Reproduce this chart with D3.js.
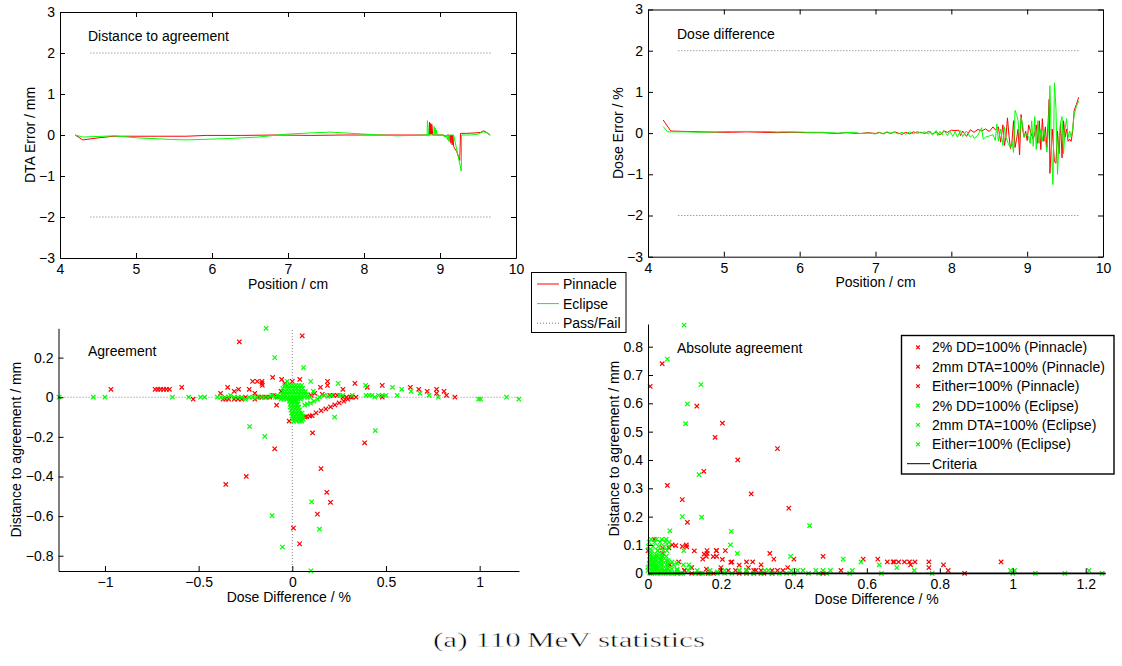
<!DOCTYPE html>
<html><head><meta charset="utf-8">
<script src="https://cdn.jsdelivr.net/npm/d3@7"></script>
<style>
body{margin:0;background:#fff;}
svg text{font-family:"Liberation Sans",Arial,Helvetica,sans-serif;fill:#000;}
</style></head><body>
<svg id="fig" width="1122" height="666"></svg>
<script>
// ---------- data ----------
const posTicks = [4, 5, 6, 7, 8, 9, 10];
const errTicks = [-3, -2, -1, 0, 1, 2, 3];
const passFailLevels = [-2, 2];
const passFailRange = [4.4, 9.68];

// distance-to-agreement error along the profile [position cm, error mm]
const dtaPinnacle = [[4.20,0],[4.30,-0.12],[4.50,-0.07],[4.71,-0.03],[5.00,-0.03],[5.30,-0.03],[5.66,-0.03],[5.93,-0.01],
  [6.39,-0.01],[6.84,0],[7.30,-0.01],[7.75,0],[8.20,0],[8.60,0],[8.86,0],[8.862,0.31],[8.875,0.02],[8.877,0.28],
  [8.89,0.02],[8.892,0.26],[8.905,0],[9.00,0],[9.05,0],[9.07,-0.04],[9.10,0],[9.12,0],[9.125,-0.15],[9.14,0],
  [9.142,-0.2],[9.155,0],[9.16,-0.24],[9.17,0],[9.18,-0.28],[9.19,-0.32],[9.22,-0.4],[9.26,-0.62],[9.27,0.04],
  [9.35,0.04],[9.45,0.05],[9.53,0.06],[9.57,0.1],[9.60,0.08],[9.66,0]];
const dtaEclipse = [[4.20,0],[4.30,-0.05],[4.71,-0.02],[5.02,-0.07],[5.48,-0.11],[5.66,-0.12],[6.16,-0.09],[6.61,-0.05],
  [6.98,0.02],[7.29,0.05],[7.56,0.07],[7.84,0.04],[8.11,0.01],[8.43,-0.02],[8.65,-0.01],[8.83,0],[8.835,0.35],[8.85,0],
  [8.92,0],[8.922,0.21],[8.935,0.02],[8.937,0.17],[8.95,0.02],[8.952,0.12],[8.965,0],[9.04,0],[9.06,-0.05],[9.08,0],
  [9.10,-0.12],[9.105,0],[9.12,-0.16],[9.125,0],[9.18,0],[9.28,-0.88],[9.285,0],[9.40,0],[9.50,0.02],[9.57,0.08],
  [9.62,0.05],[9.66,-0.01]];

// dose difference along the profile [position cm, error %]
const ddPinnacle = [[4.20,0.32],[4.30,0.05],[4.50,0.04],[4.70,0.03],[4.90,0.02],[5.10,0.02],[5.30,0.03],[5.50,0.02],
  [5.70,0.01],[5.90,0.02],[6.10,0.01],[6.30,0.01],[6.50,-0.01],[6.60,0.01],[6.70,0],[6.80,-0.01],[6.90,0.01],[7.00,-0.01],
  [7.05,0.02],[7.10,-0.02],[7.15,0.02],[7.20,-0.01],[7.25,0.03],[7.30,0],[7.35,-0.03],[7.40,0.02],[7.45,-0.02],[7.50,0.03],
  [7.55,0],[7.60,0.02],[7.65,-0.01],[7.70,0.04],[7.75,-0.02],[7.80,0.03],[7.85,-0.04],[7.90,0.05],[7.95,0.02],[8.00,0.07],
  [8.05,0.06],[8.10,0.07],[8.12,-0.06],[8.15,0.05],[8.20,-0.08],[8.25,0.08],[8.30,0.02],[8.35,0.09],[8.40,0.05],[8.45,0.1],
  [8.50,0.04],[8.55,0.15],[8.58,0.08],[8.62,0.15],[8.65,-0.22],[8.68,0.2],[8.70,-0.3],[8.72,-0.1],[8.74,0.37],[8.76,-0.05],
  [8.78,-0.38],[8.80,-0.2],[8.82,0.3],[8.84,-0.35],[8.86,-0.15],[8.88,0.1],[8.90,-0.53],[8.92,0.45],[8.94,0.1],[8.96,-0.1],
  [8.98,0.05],[9.00,-0.18],[9.02,0.2],[9.05,0],[9.08,-0.15],[9.10,0],[9.12,0.2],[9.14,-0.25],[9.16,0.3],[9.18,-0.4],
  [9.20,0.35],[9.22,-0.2],[9.24,0.15],[9.26,-0.35],[9.28,0.4],[9.29,0.82],[9.30,-0.98],[9.33,0.1],[9.36,-0.7],[9.38,-0.73],
  [9.40,0.05],[9.42,-0.5],[9.44,0.25],[9.46,-0.6],[9.48,0.3],[9.50,-0.1],[9.52,0.1],[9.54,-0.2],[9.56,-0.15],[9.58,-0.2],
  [9.60,0.05],[9.62,0.55],[9.65,0.7],[9.68,0.87]];
const ddEclipse = [[4.20,0.16],[4.26,0.03],[4.50,0.03],[4.70,0.02],[4.90,0.03],[5.10,0.04],[5.30,0.04],[5.50,0.04],
  [5.70,0.03],[5.90,0.03],[6.10,0.02],[6.30,0.02],[6.50,0],[6.60,0.01],[6.70,0.02],[6.80,-0.01],[6.90,0],[7.00,-0.02],
  [7.05,0.01],[7.10,-0.01],[7.15,0.03],[7.20,0],[7.25,0.02],[7.30,-0.02],[7.35,0.02],[7.40,-0.03],[7.45,0.03],[7.50,-0.02],
  [7.55,0.04],[7.60,0],[7.65,0.03],[7.70,-0.02],[7.72,0.05],[7.75,-0.05],[7.80,0.06],[7.82,-0.06],[7.85,0.04],[7.88,-0.05],
  [7.90,0.07],[7.95,-0.06],[7.98,0.05],[8.02,-0.08],[8.05,0.04],[8.08,-0.1],[8.12,0.06],[8.15,-0.08],[8.20,0.05],[8.25,-0.1],
  [8.28,-0.05],[8.30,-0.13],[8.35,-0.05],[8.40,0.13],[8.42,-0.15],[8.45,-0.1],[8.50,-0.07],[8.55,-0.04],[8.58,-0.18],
  [8.60,0.22],[8.62,-0.2],[8.65,0.1],[8.68,-0.3],[8.70,0.15],[8.72,-0.1],[8.75,-0.25],[8.78,-0.35],[8.80,-0.2],[8.82,-0.47],
  [8.84,0.55],[8.86,0.45],[8.88,0.3],[8.90,-0.15],[8.92,0.38],[8.94,0.2],[8.96,-0.1],[8.98,0],[9.00,-0.05],[9.02,-0.1],
  [9.04,-0.25],[9.06,0.3],[9.08,-0.32],[9.10,0.4],[9.12,-0.4],[9.14,0.3],[9.16,-0.25],[9.18,0.1],[9.20,-0.2],[9.22,0.1],
  [9.24,-0.15],[9.26,-0.46],[9.28,0.1],[9.30,1.15],[9.32,-0.3],[9.34,-1.25],[9.36,1.22],[9.38,0.6],[9.40,-1.0],[9.42,-0.2],
  [9.44,0.25],[9.46,0.4],[9.48,-0.5],[9.50,0.1],[9.52,0.35],[9.54,-0.1],[9.56,0.05],[9.58,-0.1],[9.60,0.1],[9.62,0.45],
  [9.65,0.65],[9.68,0.78]];

// agreement points [dose difference %, distance to agreement mm]
const agreePinnacle = [
  [-0.283,0.28],[0.053,0.31],[-0.355,-0.44],[-0.246,-0.40],[-0.094,-0.26],[0.108,-0.18],[0.153,-0.36],[0.184,-0.48],
  [0.204,-0.53],[0.134,-0.59],[0.006,-0.66],[0.039,-0.74],[0.386,-0.23],
  [-0.968,0.04],[-0.732,0.04],[-0.717,0.04],[-0.703,0.04],[-0.687,0.04],[-0.672,0.04],[-0.656,0.04],[-0.59,0.05],[-0.529,-0.01],
  [-0.383,0.02],[-0.345,0.05],[-0.31,0.03],[-0.287,0.04],[-0.23,0.04],
  [-0.37,-0.01],[-0.355,-0.01],[-0.34,-0.01],[-0.31,-0.01],[-0.29,-0.01],[-0.27,-0.01],[-0.25,0],[-0.2,0.02],[-0.2,-0.01],
  [-0.18,0],[-0.165,0],[-0.212,0.08],[-0.187,0.08],[-0.162,0.08],[-0.162,0.07],[-0.16,0.06],[-0.105,0.1],[-0.057,0.09],
  [-0.084,-0.04],[-0.017,-0.12],[-0.14,0],[-0.12,0],[-0.1,0.01],[-0.08,0],[-0.06,0.03],[-0.04,0.07],[0.0,0.08],
  [0.066,-0.1],[0.076,-0.098],[0.094,-0.095],[0.106,-0.093],[0.127,-0.079],[0.154,-0.068],[0.179,-0.059],[0.204,-0.049],
  [0.227,-0.039],[0.25,-0.029],[0.275,-0.02],[0.296,-0.01],[0.318,0],
  [0.2,0.01],[0.22,0.01],[0.24,0.01],[0.27,0],[0.29,0],[0.31,0],[0.34,0],[0.868,0],[0.1,0.01],[0.12,0.02],[0.16,0.015],
  [0.04,0.09],[0.188,0.08],[0.188,0.06],[0.15,0.05],[0.27,0.04],[0.334,0.07],[0.4,0.05],[0.48,0.06],[0.48,0],
  [0.63,0.05],[0.675,0.04],[0.72,0.03],[0.77,0.04],[0.77,0.02],[0.81,0.03],[0.823,0.01]];
const agreeEclipse = [
  [-0.14,0.348],[-0.094,0.2],[0.06,0.15],[-0.228,-0.148],[-0.147,-0.198],[-0.108,-0.598],[-0.053,-0.756],[0.103,-0.528],
  [0.145,-0.666],[0.099,-0.876],[0.226,-0.1],[0.443,-0.168],
  [-1.245,0],[-1.062,0],[-1.0,0],[-0.64,0],[-0.553,0],[-0.49,0],[-0.468,0],[-0.4,0],[-0.38,0],[-0.36,0],[-0.34,0],
  [-0.33,0.01],[-0.31,0],[-0.29,0],[-0.27,0],[-0.25,-0.01],[-0.23,0],[-0.21,0],[-0.19,0],[-0.17,0],[-0.15,0],[-0.13,0],
  [-0.11,0.01],[-0.09,0],[-0.08,0.01],
  [0.098,0.08],[-0.027,0.08],[0.245,0.07],[0.391,0.06],[0.535,0.05],[0.584,0.04],[0.634,0.03],[0.682,0.02],[0.73,0.01],
  [0.779,0],[0.994,-0.01],[1.005,-0.01],[1.143,0],[1.209,-0.01],[0.112,0.03],[0.146,0],[0.17,0.01],[0.19,0.005],
  [0.21,0.01],[0.25,0.01],[0.27,0.01],[0.32,0.01],[0.393,0.01],[0.41,0.01],[0.425,0.01],[0.44,0],[0.46,0.01],[0.48,0.01],
  [0.5,0.01],[0.56,0.01],
  [0.066,-0.04],[0.08,-0.035],[0.097,-0.03],[0.116,-0.02],[0.135,-0.01],
  // central cluster
  [-0.04,0.06],[-0.025,0.06],[-0.01,0.06],[0.005,0.06],[0.02,0.06],[0.035,0.06],[0.05,0.06],
  [-0.05,0.045],[-0.035,0.045],[-0.02,0.045],[-0.005,0.045],[0.01,0.045],[0.025,0.045],[0.04,0.045],[0.055,0.045],
  [-0.05,0.03],[-0.035,0.03],[-0.02,0.03],[-0.005,0.03],[0.01,0.03],[0.025,0.03],[0.04,0.03],[0.055,0.03],[0.07,0.03],
  [-0.055,0.015],[-0.04,0.015],[-0.025,0.015],[-0.01,0.015],[0.005,0.015],[0.02,0.015],[0.035,0.015],[0.05,0.015],[0.065,0.015],[0.08,0.015],
  [-0.07,0],[-0.055,0],[-0.04,0],[-0.025,0],[-0.01,0],[0.005,0],[0.02,0],[0.035,0],[0.05,0],[0.065,0],[0.08,0],[0.095,0],
  [-0.06,-0.01],[-0.045,-0.01],[-0.03,-0.01],[-0.015,-0.01],[0,-0.01],[0.015,-0.01],[0.03,-0.01],[0.045,-0.01],
  [-0.015,-0.02],[0,-0.02],[0.015,-0.02],[0.025,-0.02],
  [-0.012,-0.035],[0.003,-0.035],[0.018,-0.035],[0.03,-0.035],
  [-0.01,-0.05],[0.005,-0.05],[0.02,-0.05],[0.035,-0.05],
  [-0.007,-0.065],[0.008,-0.065],[0.023,-0.065],[0.038,-0.065],
  [-0.004,-0.08],[0.011,-0.08],[0.026,-0.08],[0.041,-0.08],[0.052,-0.08],
  [-0.001,-0.095],[0.014,-0.095],[0.029,-0.095],[0.044,-0.095],[0.057,-0.095],
  [0.003,-0.11],[0.018,-0.11],[0.033,-0.11],[0.048,-0.11],[0.058,-0.11],
  [0.008,-0.12],[0.023,-0.12],[0.038,-0.12],[0.05,-0.12]];

const agreeXTicks = [-1, -0.5, 0, 0.5, 1];
const agreeYTicks = [-0.8, -0.6, -0.4, -0.2, 0, 0.2];
const absXTicks = [0, 0.2, 0.4, 0.6, 0.8, 1, 1.2];
const absYTicks = [0, 0.1, 0.2, 0.3, 0.4, 0.5, 0.6, 0.7, 0.8];

const profileLegend = ["Pinnacle", "Eclipse", "Pass/Fail"];
const absLegend = ["2% DD=100% (Pinnacle)", "2mm DTA=100% (Pinnacle)", "Either=100% (Pinnacle)",
  "2% DD=100% (Eclipse)", "2mm DTA=100% (Eclipse)", "Either=100% (Eclipse)", "Criteria"];

// ---------- drawing ----------
const RED = "#ff0000", GREEN = "#00ff00";
const svg = d3.select("#fig");
const fmt = d3.format("");
const markerPath = "M-2.2,-2.2L2.2,2.2M-2.2,2.2L2.2,-2.2";

function styleAxis(g) {
  g.attr("font-family", null).attr("font-size", 14);
  g.selectAll("path.domain").attr("stroke", "#000").attr("stroke-width", 1);
  g.selectAll(".tick line").attr("stroke", "#000").attr("stroke-width", 1);
  g.selectAll(".tick text").attr("fill", "#000");
}

function drawAxes(x, y, xt, yt, box) {
  const [xa, xb] = x.range(), [ya, yb] = y.range();
  const g = svg.append("g");
  const gb = g.append("g").attr("transform", `translate(0,${ya})`)
    .call(d3.axisBottom(x).tickValues(xt).tickFormat(fmt).tickSize(-5).tickSizeOuter(0).tickPadding(6));
  styleAxis(gb);
  const gl = g.append("g").attr("transform", `translate(${xa},0)`)
    .call(d3.axisLeft(y).tickValues(yt).tickFormat(fmt).tickSize(-5).tickSizeOuter(0).tickPadding(5));
  styleAxis(gl);
  if (box) {
    const gt = g.append("g").attr("transform", `translate(0,${yb})`)
      .call(d3.axisTop(x).tickValues(xt).tickFormat("").tickSize(-5).tickSizeOuter(0));
    styleAxis(gt);
    const gr = g.append("g").attr("transform", `translate(${xb},0)`)
      .call(d3.axisRight(y).tickValues(yt).tickFormat("").tickSize(-5).tickSizeOuter(0));
    styleAxis(gr);
  }
  return g;
}

function labels(x, y, xlab, ylab, yoff, title) {
  const [xa, xb] = x.range(), [ya, yb] = y.range();
  svg.append("text").attr("x", (xa + xb) / 2).attr("y", ya + 30.5)
    .attr("text-anchor", "middle").attr("font-size", 14).text(xlab);
  svg.append("text").attr("transform", `translate(${xa - yoff},${(ya + yb) / 2}) rotate(-90)`)
    .attr("text-anchor", "middle").attr("font-size", 14).text(ylab);
  svg.append("text").attr("x", title.x).attr("y", title.y).attr("font-size", 14).text(title.text);
}

function passFail(x, y) {
  passFailLevels.forEach(v => {
    svg.append("line").attr("x1", x(passFailRange[0])).attr("x2", x(passFailRange[1]))
      .attr("y1", y(v)).attr("y2", y(v)).attr("stroke", "#777").attr("stroke-width", 1)
      .attr("stroke-dasharray", "1,2");
  });
}

function profileLine(x, y, data, color) {
  const line = d3.line().x(d => x(d[0])).y(d => y(d[1]));
  svg.append("path").datum(data).attr("d", line).attr("fill", "none")
    .attr("stroke", color).attr("stroke-width", 1).attr("stroke-linejoin", "round");
}

function scatter(x, y, data, color) {
  svg.append("g").selectAll("path").data(data).join("path")
    .attr("transform", d => `translate(${x(d[0])},${y(d[1])})`)
    .attr("d", markerPath).attr("fill", "none").attr("stroke", color).attr("stroke-width", 1.2);
}

// Distance to agreement profile
{
  const x = d3.scaleLinear().domain([4, 10]).range([60, 516]);
  const y = d3.scaleLinear().domain([-3, 3]).range([258, 12]);
  passFail(x, y);
  profileLine(x, y, dtaPinnacle, RED);
  profileLine(x, y, dtaEclipse, GREEN);
  drawAxes(x, y, posTicks, errTicks, true);
  labels(x, y, "Position / cm", "DTA Error / mm", 25, {x: 88, y: 41, text: "Distance to agreement"});
}

// Dose difference profile
{
  const x = d3.scaleLinear().domain([4, 10]).range([648, 1103]);
  const y = d3.scaleLinear().domain([-3, 3]).range([256.7, 9.5]);
  passFail(x, y);
  profileLine(x, y, ddPinnacle, RED);
  profileLine(x, y, ddEclipse, GREEN);
  drawAxes(x, y, posTicks, errTicks, true);
  labels(x, y, "Position / cm", "Dose Error / %", 25, {x: 677, y: 39, text: "Dose difference"});
}

// Legend shared by the profiles
{
  const g = svg.append("g");
  g.append("rect").attr("x", 531.5).attr("y", 272.5).attr("width", 94.5).attr("height", 60)
    .attr("fill", "#fff").attr("stroke", "#000").attr("stroke-width", 1);
  const styles = [{c: RED, d: null}, {c: GREEN, d: null}, {c: "#777", d: "1,2"}];
  profileLegend.forEach((t, i) => {
    const yy = 284 + i * 19.6;
    g.append("line").attr("x1", 537).attr("x2", 559).attr("y1", yy).attr("y2", yy)
      .attr("stroke", styles[i].c).attr("stroke-width", 1).attr("stroke-dasharray", styles[i].d);
    g.append("text").attr("x", 563).attr("y", yy + 5).attr("font-size", 14).text(t);
  });
}

// Agreement scatter (signed)
{
  const x = d3.scaleLinear().domain([-1.248, 1.21]).range([58.5, 519]);
  const y = d3.scaleLinear().domain([-0.877, 0.348]).range([571, 328.3]);
  svg.append("line").attr("x1", x.range()[0]).attr("x2", x.range()[1]).attr("y1", y(0)).attr("y2", y(0))
    .attr("stroke", "#888").attr("stroke-dasharray", "1,2");
  svg.append("line").attr("x1", x(0)).attr("x2", x(0)).attr("y1", y.range()[0]).attr("y2", y.range()[1])
    .attr("stroke", "#888").attr("stroke-dasharray", "1,2");
  scatter(x, y, agreePinnacle, RED);
  scatter(x, y, agreeEclipse, GREEN);
  drawAxes(x, y, agreeXTicks, agreeYTicks, false);
  labels(x, y, "Dose Difference / %", "Distance to agreement / mm", 37.5, {x: 88, y: 356, text: "Agreement"});
}

// Absolute agreement scatter
{
  const x = d3.scaleLinear().domain([0, 1.254]).range([648, 1105.4]);
  const y = d3.scaleLinear().domain([0, 0.88]).range([573.3, 324]);
  const absP = agreePinnacle.map(d => [Math.abs(d[0]), Math.abs(d[1])]);
  const absE = agreeEclipse.map(d => [Math.abs(d[0]), Math.abs(d[1])]);
  scatter(x, y, absP, RED);
  scatter(x, y, absE, GREEN);
  drawAxes(x, y, absXTicks, absYTicks, false);
  svg.append("line").attr("x1", x(0)).attr("x2", x(1.254)).attr("y1", y(0)).attr("y2", y(0))
    .attr("stroke", "#000").attr("stroke-width", 1.6);
  labels(x, y, "Dose Difference / %", "Distance to agreement / mm", 29.5, {x: 677, y: 353, text: "Absolute agreement"});

  const g = svg.append("g");
  g.append("rect").attr("x", 901.5).attr("y", 335.5).attr("width", 212.5).attr("height", 138.5)
    .attr("fill", "#fff").attr("stroke", "#000").attr("stroke-width", 1.4);
  absLegend.forEach((t, i) => {
    const yy = 347.3 + i * 19.4;
    if (i < 6) {
      g.append("path").attr("transform", `translate(918,${yy})`).attr("d", "M-1.8,-1.8L1.8,1.8M-1.8,1.8L1.8,-1.8")
        .attr("fill", "none").attr("stroke", i < 3 ? RED : GREEN).attr("stroke-width", 1.2);
    } else {
      g.append("line").attr("x1", 907).attr("x2", 930).attr("y1", yy).attr("y2", yy)
        .attr("stroke", "#000").attr("stroke-width", 1);
    }
    g.append("text").attr("x", 932).attr("y", yy + 5).attr("font-size", 14).text(t);
  });
}

// Caption
svg.append("text").attr("x", 433).attr("y", 647).attr("font-size", 21)
  .style("font-family", "'Liberation Serif','DejaVu Serif',serif")
  .style("fill", "#000").style("stroke", "#fff").style("stroke-width", 0.45)
  .attr("textLength", 272).attr("lengthAdjust", "spacingAndGlyphs")
  .text("(a) 110\u2009MeV statistics");
</script>
</body></html>
